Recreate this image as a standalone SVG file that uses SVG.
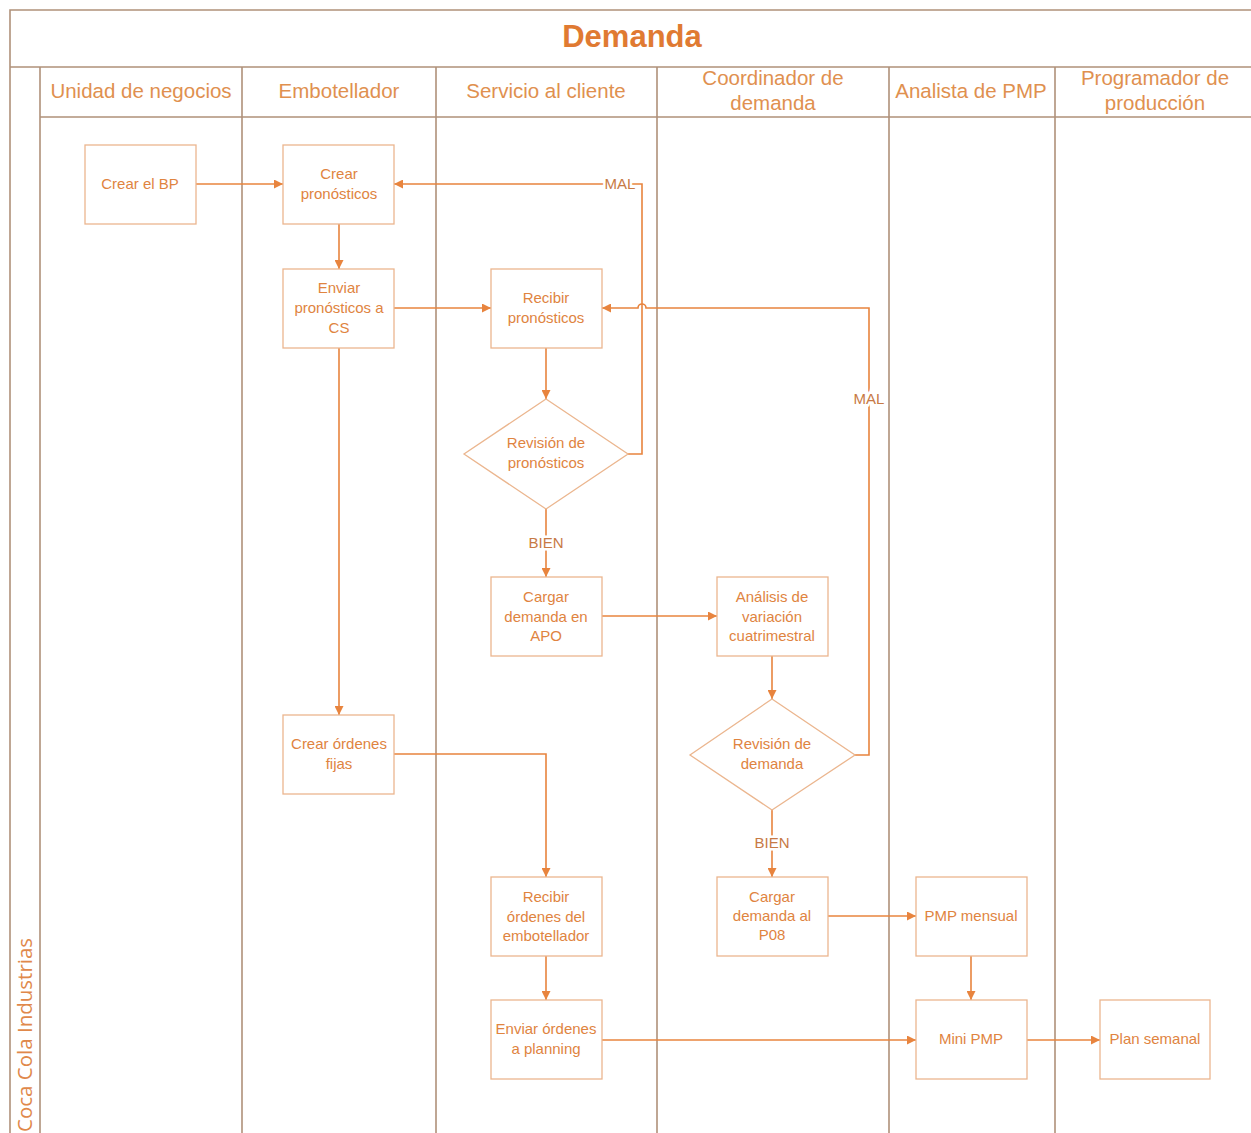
<svg xmlns="http://www.w3.org/2000/svg" width="1251" height="1133" viewBox="0 0 1251 1133">
  <style>
    .lane { stroke: #b0917a; stroke-width: 1.6; fill: none; }
    .box { fill: #ffffff; stroke: #ebb68f; stroke-width: 1.3; }
    .t { font-family: "Liberation Sans", Arial, sans-serif; font-size: 15px; fill: #e0843f; text-anchor: middle; }
    .hdr { font-family: "Liberation Sans", Arial, sans-serif; font-size: 20.5px; fill: #e0904f; text-anchor: middle; }
    .lbl { font-family: "Liberation Sans", Arial, sans-serif; font-size: 15px; fill: #c77a45; text-anchor: middle; paint-order: stroke; stroke: #ffffff; stroke-width: 5px; }
    .c { stroke: #e8843e; stroke-width: 1.6; fill: none; }
  </style>
  <defs>
    <marker id="ah" viewBox="0 0 10 10" refX="10" refY="5" markerWidth="10" markerHeight="9" orient="auto" markerUnits="userSpaceOnUse">
      <path d="M0,0 L10,5 L0,10 z" fill="#e8843e"/>
    </marker>
  </defs>
  <rect width="1251" height="1133" fill="#ffffff"/>

  <!-- pool frame and swimlanes -->
  <g id="pool">
    <path class="lane" d="M10,1133 V10 H1251 M10,67 H1251 M40,67 V1133 M40,117 H1251 M242,67 V1133 M436,67 V1133 M657,67 V1133 M889,67 V1133 M1055,67 V1133"/>
    <text x="632" y="47" font-family="Liberation Sans, Arial, sans-serif" font-size="31" font-weight="bold" fill="#e07a32" text-anchor="middle">Demanda</text>
    <text transform="translate(32,1132) rotate(-90)" x="0" y="0" font-family="Open Sans, sans-serif" font-size="20.5" fill="#e0884a">Coca Cola Industrias</text>
    <text class="hdr" x="141" y="98">Unidad de negocios</text>
    <text class="hdr" x="339" y="98">Embotellador</text>
    <text class="hdr" x="546" y="98">Servicio al cliente</text>
    <text class="hdr" x="773" y="85">Coordinador de</text>
    <text class="hdr" x="773" y="110">demanda</text>
    <text class="hdr" x="971" y="98">Analista de PMP</text>
    <text class="hdr" x="1155" y="85">Programador de</text>
    <text class="hdr" x="1155" y="110">producción</text>
  </g>

  <!-- connectors -->
  <g id="connectors">
    <path class="c" d="M196,184 H283" marker-end="url(#ah)"/>
    <path class="c" d="M339,224 V269" marker-end="url(#ah)"/>
    <path class="c" d="M394,308 H491" marker-end="url(#ah)"/>
    <path class="c" d="M546,348 V399" marker-end="url(#ah)"/>
    <path class="c" d="M628,454 H642 V184 H394" marker-end="url(#ah)"/>
    <text class="lbl" x="620" y="189">MAL</text>
    <path class="c" d="M546,509 V577" marker-end="url(#ah)"/>
    <text class="lbl" x="546" y="548">BIEN</text>
    <path class="c" d="M602,616 H717" marker-end="url(#ah)"/>
    <path class="c" d="M772,656 V699" marker-end="url(#ah)"/>
    <path class="c" d="M855,755 H869 V308 H646 A4,4 0 0 0 638,308 H602" marker-end="url(#ah)"/>
    <text class="lbl" x="869" y="404">MAL</text>
    <path class="c" d="M772,810 V877" marker-end="url(#ah)"/>
    <text class="lbl" x="772" y="848">BIEN</text>
    <path class="c" d="M339,348 V715" marker-end="url(#ah)"/>
    <path class="c" d="M394,754 H546 V877" marker-end="url(#ah)"/>
    <path class="c" d="M546,956 V1000" marker-end="url(#ah)"/>
    <path class="c" d="M602,1040 H916" marker-end="url(#ah)"/>
    <path class="c" d="M828,916 H916" marker-end="url(#ah)"/>
    <path class="c" d="M971,956 V1000" marker-end="url(#ah)"/>
    <path class="c" d="M1027,1040 H1100" marker-end="url(#ah)"/>
  </g>

  <!-- process steps -->
  <g id="crear-bp">
    <rect class="box" x="85" y="145" width="111" height="79"/>
    <text class="t" x="140" y="189">Crear el BP</text>
  </g>
  <g id="crear-pronosticos">
    <rect class="box" x="283" y="145" width="111" height="79"/>
    <text class="t" x="339" y="179">Crear</text>
    <text class="t" x="339" y="199">pronósticos</text>
  </g>
  <g id="enviar-pronosticos">
    <rect class="box" x="283" y="269" width="111" height="79"/>
    <text class="t" x="339" y="293">Enviar</text>
    <text class="t" x="339" y="313">pronósticos a</text>
    <text class="t" x="339" y="333">CS</text>
  </g>
  <g id="recibir-pronosticos">
    <rect class="box" x="491" y="269" width="111" height="79"/>
    <text class="t" x="546" y="303">Recibir</text>
    <text class="t" x="546" y="323">pronósticos</text>
  </g>
  <g id="revision-pronosticos">
    <polygon class="box" points="546,399 628,454 546,509 464,454"/>
    <text class="t" x="546" y="448">Revisión de</text>
    <text class="t" x="546" y="468">pronósticos</text>
  </g>
  <g id="cargar-apo">
    <rect class="box" x="491" y="577" width="111" height="79"/>
    <text class="t" x="546" y="602">Cargar</text>
    <text class="t" x="546" y="622">demanda en</text>
    <text class="t" x="546" y="641">APO</text>
  </g>
  <g id="analisis-variacion">
    <rect class="box" x="717" y="577" width="111" height="79"/>
    <text class="t" x="772" y="602">Análisis de</text>
    <text class="t" x="772" y="622">variación</text>
    <text class="t" x="772" y="641">cuatrimestral</text>
  </g>
  <g id="revision-demanda">
    <polygon class="box" points="772,699 855,755 772,810 690,755"/>
    <text class="t" x="772" y="749">Revisión de</text>
    <text class="t" x="772" y="769">demanda</text>
  </g>
  <g id="crear-ordenes">
    <rect class="box" x="283" y="715" width="111" height="79"/>
    <text class="t" x="339" y="749">Crear órdenes</text>
    <text class="t" x="339" y="769">fijas</text>
  </g>
  <g id="recibir-ordenes">
    <rect class="box" x="491" y="877" width="111" height="79"/>
    <text class="t" x="546" y="902">Recibir</text>
    <text class="t" x="546" y="922">órdenes del</text>
    <text class="t" x="546" y="941">embotellador</text>
  </g>
  <g id="enviar-ordenes">
    <rect class="box" x="491" y="1000" width="111" height="79"/>
    <text class="t" x="546" y="1034">Enviar órdenes</text>
    <text class="t" x="546" y="1054">a planning</text>
  </g>
  <g id="cargar-p08">
    <rect class="box" x="717" y="877" width="111" height="79"/>
    <text class="t" x="772" y="902">Cargar</text>
    <text class="t" x="772" y="921">demanda al</text>
    <text class="t" x="772" y="940">P08</text>
  </g>
  <g id="pmp-mensual">
    <rect class="box" x="916" y="877" width="111" height="79"/>
    <text class="t" x="971" y="921">PMP mensual</text>
  </g>
  <g id="mini-pmp">
    <rect class="box" x="916" y="1000" width="111" height="79"/>
    <text class="t" x="971" y="1044">Mini PMP</text>
  </g>
  <g id="plan-semanal">
    <rect class="box" x="1100" y="1000" width="110" height="79"/>
    <text class="t" x="1155" y="1044">Plan semanal</text>
  </g>
</svg>
